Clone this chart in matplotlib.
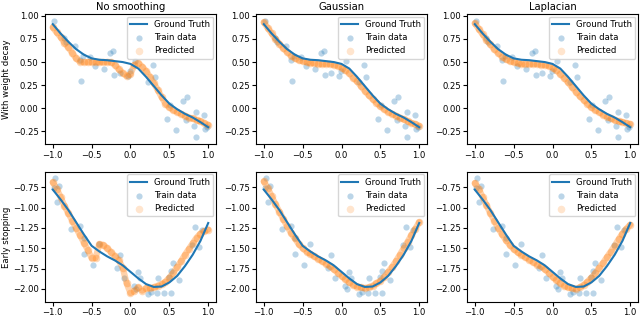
import matplotlib
matplotlib.use("Agg")
import matplotlib.pyplot as plt

# column titles and row labels
col_titles = ["No smoothing", "Gaussian", "Laplacian"]
row_labels = ["With weight decay", "Early stopping"]

# ground truth sampled every 0.1
gt_x = [-1.0, -0.9, -0.8, -0.7, -0.6, -0.5, -0.4, -0.3, -0.2, -0.1, 0.0,
        0.1, 0.2, 0.3, 0.4, 0.5, 0.6, 0.7, 0.8, 0.9, 1.0]
gt_top = [0.91, 0.81, 0.72, 0.64, 0.58, 0.54, 0.525, 0.52, 0.51, 0.50, 0.48,
          0.43, 0.34, 0.24, 0.14, 0.05, -0.01, -0.06, -0.10, -0.15, -0.205]
gt_bot = [-0.78, -0.90, -1.03, -1.18, -1.33, -1.47, -1.54, -1.60, -1.65, -1.71, -1.79,
          -1.87, -1.94, -1.975, -1.97, -1.92, -1.84, -1.72, -1.58, -1.41, -1.19]

# training points (same in every panel of a row)
train_top_x = [-0.99, -0.86, -0.83, -0.71, -0.65, -0.635, -0.61, -0.52, -0.46, -0.34,
               -0.26, -0.23, -0.21, -0.13, -0.03, -0.01, 0.06, 0.23, 0.29, 0.31,
               0.47, 0.51, 0.58, 0.68, 0.73, 0.72, 0.84, 0.84, 0.82, 0.95, 0.96, 0.98]
train_top_y = [0.94, 0.76, 0.72, 0.67, 0.52, 0.30, 0.57, 0.56, 0.46, 0.42,
               0.60, 0.62, 0.36, 0.385, 0.35, 0.40, 0.51, 0.28, 0.47, 0.335,
               -0.12, 0.03, -0.24, 0.08, 0.12, -0.13, -0.035, -0.31, -0.19, -0.07, -0.22, -0.20]
train_bot_x = [-0.97, -0.99, -0.92, -0.94, -0.76, -0.65, -0.60, -0.60, -0.48, -0.40,
               -0.13, -0.17, -0.09, 0.05, 0.07, 0.10, 0.12, 0.23, 0.27, 0.35,
               0.34, 0.43, 0.52, 0.49, 0.52, 0.55, 0.63, 0.79, 0.83, 0.88, 0.92]
train_bot_y = [-0.64, -0.76, -0.74, -0.93, -1.26, -1.23, -1.38, -1.57, -1.70, -1.45,
               -1.58, -1.74, -1.86, -1.96, -2.00, -1.79, -1.86, -2.06, -2.04, -1.86,
               -2.05, -2.05, -2.05, -1.85, -1.78, -1.68, -1.89, -1.46, -1.24, -1.48, -1.28]

# predictions, sampled every 0.05
pred_x = [-1.0, -0.95, -0.9, -0.85, -0.8, -0.75, -0.7, -0.65, -0.6, -0.55, -0.5,
          -0.45, -0.4, -0.35, -0.3, -0.25, -0.2, -0.15, -0.1, -0.05, 0.0,
          0.05, 0.1, 0.15, 0.2, 0.25, 0.3, 0.35, 0.4, 0.45, 0.5,
          0.55, 0.6, 0.65, 0.7, 0.75, 0.8, 0.85, 0.9, 0.95, 1.0]
pred_top_none = [0.875, 0.82, 0.77, 0.71, 0.66, 0.60, 0.54, 0.505, 0.50, 0.50, 0.50,
                 0.50, 0.50, 0.50, 0.50, 0.50, 0.47, 0.42, 0.38, 0.35, 0.37,
                 0.47, 0.49, 0.45, 0.40, 0.34, 0.27, 0.20, 0.12, 0.05, 0.01,
                 -0.02, -0.04, -0.06, -0.08, -0.10, -0.11, -0.13, -0.14, -0.16, -0.18]
pred_top_gauss = [0.93, 0.87, 0.81, 0.75, 0.70, 0.65, 0.61, 0.57, 0.54, 0.52, 0.51,
                  0.50, 0.49, 0.49, 0.48, 0.48, 0.48, 0.48, 0.47, 0.46, 0.44,
                  0.41, 0.38, 0.33, 0.29, 0.24, 0.19, 0.14, 0.10, 0.06, 0.02,
                  -0.01, -0.04, -0.06, -0.08, -0.10, -0.12, -0.14, -0.16, -0.17, -0.19]
pred_top_lap = [0.92, 0.86, 0.80, 0.74, 0.69, 0.64, 0.60, 0.56, 0.53, 0.51, 0.50,
                0.49, 0.48, 0.48, 0.48, 0.48, 0.48, 0.47, 0.47, 0.46, 0.44,
                0.41, 0.37, 0.33, 0.28, 0.23, 0.18, 0.13, 0.09, 0.05, 0.01,
                -0.02, -0.04, -0.07, -0.09, -0.11, -0.13, -0.14, -0.15, -0.16, -0.17]
pred_bot_none = [-0.69, -0.77, -0.87, -0.98, -1.07, -1.16, -1.25, -1.34, -1.43, -1.52, -1.62,
                 -1.62, -1.45, -1.46, -1.50, -1.55, -1.60, -1.65, -1.74, -1.93, -2.05,
                 -2.02, -1.98, -2.02, -1.99, -1.99, -1.98, -1.96, -1.94, -1.91, -1.86,
                 -1.80, -1.73, -1.66, -1.58, -1.51, -1.44, -1.37, -1.32, -1.29, -1.27]
pred_bot_gauss = [-0.68, -0.76, -0.86, -0.96, -1.05, -1.14, -1.23, -1.31, -1.38, -1.45, -1.50,
                  -1.54, -1.57, -1.60, -1.63, -1.66, -1.69, -1.72, -1.76, -1.80, -1.84,
                  -1.88, -1.92, -1.95, -1.97, -1.98, -1.99, -1.98, -1.96, -1.93, -1.90,
                  -1.85, -1.79, -1.73, -1.66, -1.58, -1.50, -1.42, -1.34, -1.26, -1.18]
pred_bot_lap = [-0.70, -0.77, -0.87, -0.97, -1.07, -1.16, -1.25, -1.33, -1.40, -1.46, -1.51,
                -1.55, -1.58, -1.61, -1.64, -1.67, -1.70, -1.72, -1.76, -1.80, -1.85,
                -1.89, -1.93, -1.96, -1.98, -1.99, -2.00, -1.98, -1.95, -1.91, -1.86,
                -1.81, -1.74, -1.68, -1.61, -1.54, -1.47, -1.39, -1.32, -1.26, -1.21]

rows = [
    (gt_top, train_top_x, train_top_y, [pred_top_none, pred_top_gauss, pred_top_lap], (-0.39, 1.02)),
    (gt_bot, train_bot_x, train_bot_y, [pred_bot_none, pred_bot_gauss, pred_bot_lap], (-2.16, -0.56)),
]

plt.rcParams['font.size'] = 6.1

fig, axes = plt.subplots(2, 3, figsize=(6.4, 3.17), dpi=100)
fig.subplots_adjust(left=45/640, right=638/640, top=1-14/317, bottom=1-302/317,
                    wspace=0.234, hspace=0.21)

for r, (gt, tx, ty, preds, ylim) in enumerate(rows):
    for c in range(3):
        ax = axes[r, c]
        ax.plot(gt_x, gt, color='#1f77b4', lw=1.5, label='Ground Truth', zorder=3)
        ax.scatter(tx, ty, s=20, color='#1f77b4', alpha=0.3, lw=0, label='Train data')
        # dense cloud of predictions: soft band plus the sample dots
        ax.plot(pred_x, preds[c], color='#ff7f0e', lw=4.5, alpha=0.35,
                solid_capstyle='round', solid_joinstyle='round')
        ax.scatter(pred_x, preds[c], s=30, color='#ff7f0e', alpha=0.3, lw=0,
                   label='Predicted')
        ax.set_ylim(*ylim)
        ax.set_xticks([-1.0, -0.5, 0.0, 0.5, 1.0])
        ax.tick_params(length=3, pad=1.5)
        leg = ax.legend(loc='upper right', fontsize=6.1, borderaxespad=0.3)
        # legend dot for predictions is paler than the dense band
        leg.legend_handles[2].set_alpha(0.2)
        if r == 0:
            ax.set_title(col_titles[c], fontsize=7.2, pad=3)
        if c == 0:
            ax.set_ylabel(row_labels[r], labelpad=1)

fig.savefig('out.png', dpi=100)
